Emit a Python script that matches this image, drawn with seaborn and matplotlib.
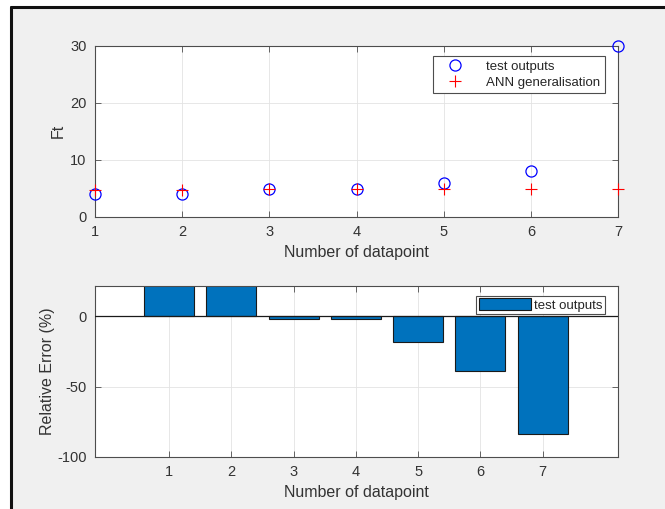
import numpy as np
import pandas as pd
import matplotlib
matplotlib.use("Agg")
import matplotlib.pyplot as plt
import seaborn as sns
from matplotlib.patches import Rectangle
from matplotlib.lines import Line2D

# ---- data ----
datapoints = [1, 2, 3, 4, 5, 6, 7]
test_outputs = [3.93, 3.93, 4.93, 4.9, 5.96, 7.96, 30.0]
ann_generalisation = [4.75, 4.75, 4.85, 4.8, 4.8, 4.85, 4.85]
relative_error = [24.0, 24.0, -2.0, -2.0, -18.5, -39.0, -83.8]
top_yticks = [0, 10, 20, 30]
bot_yticks = [-100, -50, 0]

sns.set_theme(style="white")
plt.rcParams['font.family'] = ['Liberation Sans', 'DejaVu Sans']
plt.rcParams['axes.unicode_minus'] = False

W, H = 665, 509
fig = plt.figure(figsize=(W / 100, H / 100), dpi=100, facecolor='white')

# gray figure area with black screenshot border (left/top)
fig.patches.append(Rectangle((11 / W, 0), 1, 1 - 7 / H, transform=fig.transFigure,
                             facecolor='#f0f0f0', edgecolor='none', zorder=-10))
fig.lines.append(Line2D([10.5 / W, 10.5 / W], [0, 1 - 6.5 / H], transform=fig.transFigure,
                        color='#111111', lw=2.2))
fig.lines.append(Line2D([10.5 / W, 1], [1 - 6.5 / H, 1 - 6.5 / H], transform=fig.transFigure,
                        color='#111111', lw=2.2))

axc = '#4d4d4d'
tickc = '#333333'
left, right = 95 / W, 618 / W
ax1 = fig.add_axes([left, (H - 216.7) / H, right - left, 171 / H])
ax2 = fig.add_axes([left, (H - 456.7) / H, right - left, 171 / H])

df = pd.DataFrame({'x': datapoints, 'test': test_outputs, 'ann': ann_generalisation,
                   'err': relative_error})

# ---- top plot ----
sns.lineplot(data=df, x='x', y='test', ax=ax1, linestyle='', marker='o', markersize=8,
             markerfacecolor='none', markeredgecolor='#0000ff', markeredgewidth=0.9,
             color='#0000ff', label='test outputs')
sns.lineplot(data=df, x='x', y='ann', ax=ax1, linestyle='', marker='+', markersize=9,
             markeredgecolor='#ff0000', markeredgewidth=0.8, color='#ff0000',
             label='ANN generalisation')
for ln in ax1.lines:
    ln.set_clip_on(False)
    ln.set_zorder(5)
ax1.set_xlim(1, 7)
ax1.set_ylim(0, 30)
ax1.set_xticks(datapoints)
ax1.set_yticks(top_yticks)
ax1.set_xlabel('Number of datapoint', fontsize=11.5, color=tickc, labelpad=4)
ax1.set_ylabel('Ft', fontsize=11.5, color=tickc)
ax1.yaxis.set_label_coords(-0.056, 0.5)
leg1 = ax1.legend(loc='upper right', bbox_to_anchor=(605 / W, 1 - 55.7 / H),
                  bbox_transform=fig.transFigure, fontsize=9.5, frameon=True,
                  fancybox=False, framealpha=1, edgecolor=axc, borderpad=0.35,
                  handlelength=2.6, handletextpad=1.1, labelspacing=0.3, borderaxespad=0)
leg1.get_frame().set_linewidth(0.8)

# ---- bottom plot ----
sns.barplot(data=df, x='x', y='err', ax=ax2, native_scale=True, width=0.8,
            color='#0072BD', saturation=1, edgecolor='#1a1a1a', linewidth=0.8,
            label='test outputs', zorder=2)
ax2.axhline(0, color='#1a1a1a', lw=0.9, zorder=3)
ax2.set_xlim(-0.19, 8.21)
ax2.set_ylim(-100, 21.8)
ax2.set_xticks(datapoints)
ax2.set_xticklabels([str(d) for d in datapoints])
ax2.set_yticks(bot_yticks)
ax2.set_xlabel('Number of datapoint', fontsize=11.5, color=tickc, labelpad=4)
ax2.set_ylabel('Relative Error (%)', fontsize=11.5, color=tickc)
ax2.yaxis.set_label_coords(-0.076, 0.5)
leg2 = ax2.legend(loc='upper right', bbox_to_anchor=(605 / W, 1 - 295.7 / H),
                  bbox_transform=fig.transFigure, fontsize=9.5, frameon=True,
                  fancybox=False, framealpha=1, edgecolor=axc, borderpad=0.2,
                  handlelength=3.9, handleheight=1.0, handletextpad=0.25, borderaxespad=0)
leg2.get_frame().set_linewidth(0.8)

for ax in (ax1, ax2):
    ax.set_facecolor('white')
    ax.grid(True, color='#e3e3e3', lw=0.6, zorder=0)
    ax.set_axisbelow(True)
    for s in ax.spines.values():
        s.set_color(axc)
        s.set_linewidth(0.8)
        s.set_visible(True)
    ax.tick_params(direction='in', length=4, width=0.6, color=axc,
                   labelsize=10.5, labelcolor=tickc, top=True, right=True,
                   bottom=True, left=True, pad=6)

fig.savefig('out.png', dpi=100, facecolor=fig.get_facecolor())
